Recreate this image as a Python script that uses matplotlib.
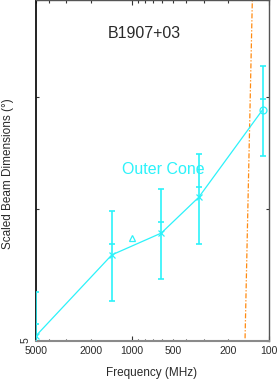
import numpy as np
import matplotlib
matplotlib.use("Agg")
from matplotlib import pyplot as plt
from matplotlib.ticker import FixedLocator, FuncFormatter, NullLocator

plt.rcParams['font.family'] = ['Liberation Sans', 'DejaVu Sans']

# outer cone measurements
freqs = [5000, 1400, 610, 325, 111]
widths = [5.036, 5.630, 5.802, 6.096, 6.879]
err_lo = [4.74, 5.286, 5.444, 5.716, 6.454]
err_hi = [5.351, 5.982, 6.164, 6.469, 7.307]
inner_cap = [5.116, 5.719, 5.890, 6.184, 6.984]
markers = ['x', 'x', 'x', 'x', 'o']

tri_freq = [1000]
tri_width = [5.759]

# model curve (orange)
model_freq = [150.0, 132.3, 128.0]
model_width = [4.95, 8.0, 8.8]

major_x = [1000, 100]
minor_x = [5000, 4000, 3000, 2000, 900, 800, 700, 600, 500, 400, 300, 200]
x_labels = {5000: '5000', 2000: '2000', 1000: '1000', 500: '500', 200: '200', 100: '100'}

cyan = '#2cf2fa'
orange = '#ff8a10'
txt = '#2a2a2a'

fig = plt.figure(figsize=(2.78, 3.79), dpi=100)
ax = fig.add_axes([36 / 278, 38 / 379, 233 / 278, 341 / 379])
ax.set_xscale('log')
ax.set_yscale('log')

ax.plot(model_freq, model_width, color=orange, lw=0.9, linestyle=(0, (4, 1.5, 1, 1.5)), zorder=1)

ax.plot(freqs, widths, color=cyan, lw=0.9, zorder=2)
yerr = [np.array(widths) - np.array(err_lo), np.array(err_hi) - np.array(widths)]
ax.errorbar(freqs, widths, yerr=yerr, fmt='none', ecolor=cyan, elinewidth=1.2,
            capsize=2.0, capthick=1.2, zorder=3)
ax.plot(freqs, inner_cap, linestyle='none', marker='_', ms=4, mew=1.2, color=cyan, zorder=3)
for f, w, m in zip(freqs, widths, markers):
    ax.plot([f], [w], linestyle='none', marker=m, ms=4.5 if m == 'x' else 5,
            mfc='none', mec=cyan, mew=0.9, zorder=4)
ax.plot(tri_freq, tri_width, linestyle='none', marker='^', ms=5, mfc='none', mec=cyan, mew=0.9, zorder=4)

ax.set_xlim(5000, 100)
ax.set_ylim(5, 8)

ax.xaxis.set_major_locator(FixedLocator(major_x))
ax.xaxis.set_minor_locator(FixedLocator(minor_x))
ax.xaxis.set_major_formatter(FuncFormatter(lambda v, p: x_labels.get(int(round(v)), '')))
ax.xaxis.set_minor_formatter(FuncFormatter(lambda v, p: x_labels.get(int(round(v)), '')))
ax.yaxis.set_major_locator(FixedLocator([5, 6, 7, 8]))
ax.yaxis.set_minor_locator(NullLocator())
ax.yaxis.set_major_formatter(FuncFormatter(lambda v, p: '5' if abs(v - 5) < 1e-6 else ''))

ax.tick_params(axis='x', which='major', direction='in', top=True, bottom=True, length=3.8,
               width=0.8, color='#333333', labelsize=7.5, pad=3.5, labelcolor=txt)
ax.tick_params(axis='x', which='minor', direction='in', top=True, bottom=True, length=1.8,
               width=0.8, color='#333333', labelsize=7.5, pad=3.5, labelcolor=txt)
ax.tick_params(axis='y', which='major', direction='in', left=True, right=True, length=2.5,
               width=0.8, color='#333333', labelsize=7.5, pad=4, labelcolor=txt,
               labelrotation=90)

for side in ['top', 'right']:
    ax.spines[side].set_color('#555555')
    ax.spines[side].set_linewidth(1.0)
ax.spines['bottom'].set_color('#8a8a8a')
ax.spines['bottom'].set_linewidth(1.5)
ax.spines['left'].set_color('#111111')
ax.spines['left'].set_linewidth(1.3)

ax.text(0.464, 0.903, 'B1907+03', transform=ax.transAxes, ha='center', va='center',
        fontsize=11.5, color=txt)
ax.text(0.546, 0.504, 'Outer Cone', transform=ax.transAxes, ha='center', va='center',
        fontsize=11.5, color=cyan)

fig.text(152 / 278, 3 / 379, 'Frequency (MHz)', ha='center', va='baseline', fontsize=8.5, color=txt)
fig.text(8 / 278, 1 - 174 / 379, 'Scaled Beam Dimensions (°)', ha='center', va='center',
         rotation=90, fontsize=8.5, color=txt)

fig.savefig('out.png', dpi=100)
